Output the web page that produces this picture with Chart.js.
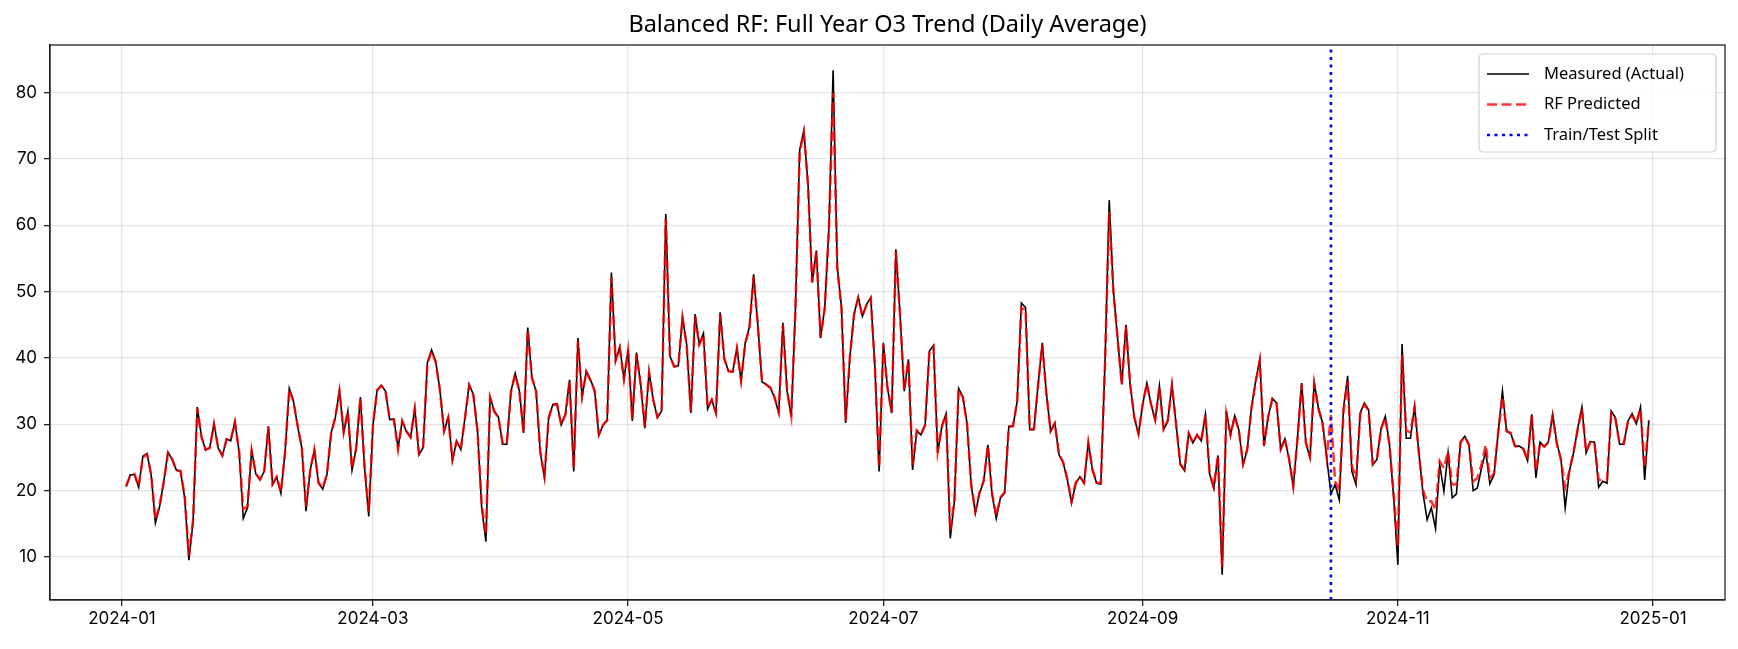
<!DOCTYPE html>
<html>
<head>
<meta charset="utf-8">
<script src="https://cdn.jsdelivr.net/npm/chart.js@4.4.1/dist/chart.umd.min.js"></script>
<style>
    html, body { margin: 0; padding: 0; background: #fff; }
</style>
</head>
<body>
<canvas id="chart" width="1738" height="649"></canvas>
<script>
// daily O3 average, one value per day from 2024-01-02 to 2024-12-31
const firstDate = '2024-01-02';

const measured = [
    20.6, 22.4, 22.4, 20.5, 25.2, 25.6, 22.3, 15.1, 17.6, 21.4,
    25.8, 24.7, 23.1, 22.9, 18.9, 9.5, 15.3, 32.6, 28.2, 26.1,
    26.5, 30.1, 26.4, 25.2, 27.8, 27.5, 30.4, 25.9, 15.8, 17.4,
    26.1, 22.5, 21.6, 22.9, 29.7, 20.9, 22.0, 19.6, 25.9, 35.4,
    33.5, 29.7, 26.4, 16.9, 23.1, 26.1, 21.1, 20.2, 22.4, 28.7,
    31.0, 35.1, 28.7, 32.0, 23.1, 26.4, 34.1, 23.4, 16.1, 29.9,
    35.2, 35.9, 35.0, 30.7, 30.8, 26.4, 30.5, 28.9, 28.0, 32.4,
    25.4, 26.5, 39.3, 41.2, 39.5, 35.2, 28.9, 31.1, 24.5, 27.5,
    26.2, 31.0, 36.0, 34.5, 28.9, 17.4, 12.3, 34.1, 32.0, 31.1,
    27.0, 27.0, 35.0, 37.7, 35.0, 28.7, 44.6, 37.0, 35.0, 25.7,
    21.9, 31.0, 33.0, 33.1, 29.9, 31.5, 36.7, 22.9, 43.0, 34.1,
    38.0, 36.7, 35.1, 28.3, 29.9, 30.6, 52.9, 39.6, 41.7, 36.8,
    41.3, 30.5, 40.8, 36.0, 29.4, 37.9, 33.7, 31.0, 32.0, 61.7,
    40.3, 38.7, 38.8, 46.2, 42.0, 31.7, 46.6, 42.1, 43.7, 32.3,
    33.7, 31.6, 46.9, 39.9, 38.0, 37.9, 41.5, 36.5, 42.3, 44.7,
    52.6, 45.0, 36.4, 36.0, 35.5, 34.0, 31.7, 45.3, 35.0, 31.1,
    47.6, 71.3, 74.3, 66.2, 51.4, 56.2, 43.0, 47.6, 59.7, 83.4,
    53.7, 47.6, 30.2, 40.1, 46.6, 49.2, 46.3, 48.1, 49.1, 38.5,
    22.9, 42.3, 35.5, 31.7, 56.4, 46.6, 35.0, 39.8, 23.1, 29.0,
    28.4, 29.9, 41.0, 41.9, 25.7, 29.7, 31.6, 12.8, 18.4, 35.4,
    34.2, 30.2, 20.9, 16.6, 19.6, 21.4, 26.9, 19.4, 15.8, 18.9,
    19.6, 29.7, 29.7, 33.5, 48.3, 47.6, 29.2, 29.2, 36.0, 42.3,
    34.5, 28.9, 30.2, 25.4, 24.2, 21.6, 18.1, 21.1, 22.1, 21.1,
    27.3, 23.1, 21.1, 21.0, 39.5, 63.8, 50.1, 43.0, 36.0, 45.0,
    36.0, 31.0, 28.5, 33.0, 36.2, 33.0, 30.6, 35.8, 29.2, 30.5,
    36.0, 29.9, 23.9, 23.0, 28.7, 27.2, 28.4, 27.5, 31.5, 22.5,
    20.3, 25.3, 7.3, 32.0, 28.4, 31.3, 29.1, 23.9, 26.2, 32.5,
    36.5, 39.8, 26.7, 31.2, 33.9, 33.2, 26.2, 27.8, 24.7, 20.5,
    27.9, 36.2, 27.2, 25.0, 36.3, 32.5, 30.2, 24.9, 19.5, 20.9,
    18.6, 32.5, 37.3, 22.9, 20.9, 31.7, 33.2, 32.2, 23.9, 24.7,
    29.4, 31.2, 26.9, 18.9, 8.8, 42.1, 27.9, 27.9, 32.7, 25.9,
    19.6, 15.6, 17.4, 14.3, 23.9, 19.9, 25.7, 18.9, 19.5, 27.4,
    28.2, 26.9, 20.0, 20.4, 23.4, 25.9, 21.0, 22.4, 28.9, 35.0,
    28.9, 28.6, 26.7, 26.7, 26.3, 24.5, 31.5, 21.9, 27.3, 26.6,
    27.4, 31.5, 27.2, 24.7, 17.4, 22.9, 25.7, 29.4, 32.6, 25.7,
    27.4, 27.3, 20.5, 21.4, 21.1, 32.0, 31.0, 27.0, 27.0, 30.5,
    31.6, 30.1, 32.6, 21.6, 30.6
];

const predicted = [
    20.7, 22.3, 22.5, 20.7, 25.0, 25.5, 22.4, 15.6, 17.7, 21.3,
    25.7, 24.8, 23.0, 23.0, 19.1, 10.2, 15.6, 32.4, 28.1, 26.2,
    26.4, 30.0, 26.5, 25.3, 27.7, 27.6, 30.3, 26.0, 17.2, 17.6,
    26.0, 22.6, 21.7, 22.8, 29.6, 21.0, 22.1, 19.8, 25.8, 35.3,
    33.4, 29.8, 26.5, 17.6, 23.0, 26.2, 21.2, 20.4, 22.5, 28.6,
    31.0, 35.0, 28.8, 31.9, 23.3, 26.4, 34.0, 23.6, 16.8, 29.8,
    35.1, 35.8, 35.0, 30.8, 30.7, 26.2, 30.5, 29.0, 28.1, 32.3,
    25.6, 26.6, 39.1, 41.0, 39.4, 35.2, 29.0, 31.0, 24.7, 27.4,
    26.3, 30.9, 35.9, 34.4, 29.0, 17.9, 13.3, 34.0, 31.9, 31.0,
    27.1, 27.1, 34.9, 37.5, 35.0, 28.8, 44.3, 37.0, 35.0, 25.9,
    22.2, 30.9, 32.9, 33.0, 30.0, 31.4, 36.5, 23.4, 42.5, 34.2,
    37.9, 36.6, 35.0, 28.5, 29.9, 30.6, 52.1, 39.6, 41.5, 36.8,
    41.1, 30.7, 40.6, 36.0, 29.6, 37.8, 33.7, 31.1, 32.1, 61.0,
    40.2, 38.7, 38.8, 46.0, 41.9, 31.9, 46.3, 42.0, 43.5, 32.5,
    33.7, 31.8, 46.6, 39.8, 38.0, 37.9, 41.4, 36.6, 42.2, 44.5,
    52.2, 45.0, 36.5, 36.0, 35.5, 34.1, 31.9, 45.0, 35.1, 31.3,
    47.3, 71.0, 74.0, 66.0, 51.4, 56.0, 43.1, 47.5, 59.4, 80.0,
    53.5, 47.5, 30.5, 40.0, 46.5, 49.0, 46.3, 48.0, 49.0, 38.6,
    23.5, 42.1, 35.5, 31.8, 56.0, 46.5, 35.1, 39.6, 23.8, 29.1,
    28.5, 29.9, 40.8, 41.7, 25.9, 29.7, 31.5, 14.0, 18.7, 35.2,
    34.1, 30.2, 21.0, 16.9, 19.7, 21.5, 26.8, 19.6, 16.2, 19.0,
    19.8, 29.6, 29.7, 33.4, 47.5, 47.3, 29.3, 29.3, 35.9, 42.0,
    34.5, 29.0, 30.1, 25.5, 24.3, 21.7, 18.4, 21.2, 22.1, 21.2,
    27.2, 23.2, 21.2, 21.2, 39.2, 62.0, 50.0, 43.0, 36.0, 44.8,
    36.0, 31.1, 28.6, 33.0, 36.1, 33.0, 30.7, 35.6, 29.3, 30.5,
    35.8, 29.9, 24.0, 23.2, 28.6, 27.2, 28.4, 27.5, 31.4, 22.7,
    20.6, 25.3, 8.5, 31.6, 28.4, 31.2, 29.0, 24.0, 26.2, 32.4,
    36.3, 39.6, 26.8, 31.1, 33.8, 33.2, 26.3, 27.8, 24.8, 20.7,
    27.8, 36.0, 27.3, 25.1, 36.1, 32.4, 30.1, 25.0, 31.4, 21.4,
    20.0, 31.8, 36.5, 23.8, 21.8, 31.5, 33.0, 32.0, 24.0, 24.9,
    29.3, 31.0, 26.9, 19.4, 11.5, 40.5, 29.0, 28.8, 32.5, 25.7,
    20.1, 18.4, 18.4, 17.1, 24.4, 23.4, 25.9, 20.9, 20.9, 27.3,
    28.1, 26.9, 21.4, 21.9, 23.9, 26.9, 21.9, 22.6, 28.8, 34.2,
    29.0, 28.7, 26.7, 26.6, 26.3, 24.6, 31.3, 22.9, 27.2, 26.6,
    27.3, 31.2, 27.1, 24.6, 20.5, 23.0, 25.8, 29.3, 32.3, 25.9,
    27.3, 27.2, 21.6, 21.6, 21.6, 31.6, 30.8, 27.1, 27.1, 30.4,
    31.3, 30.2, 32.3, 23.4, 30.5
];

// x axis tick labels (first day of every other month) and y axis ticks
const xTickLabels = ['2024-01', '2024-03', '2024-05', '2024-07', '2024-09', '2024-11', '2025-01'];
const yTickValues = [10, 20, 30, 40, 50, 60, 70, 80];
const splitDate = '2024-10-16';

const seriesLabels = ['Measured (Actual)', 'RF Predicted', 'Train/Test Split'];

// days since 2024-01-01, used as the x value
const dayNumber = (text) => {
    const [y, m, d] = text.split('-').map(Number);
    return (Date.UTC(y, m - 1, d || 1) - Date.UTC(2024, 0, 1)) / 86400000;
};

const startDay = dayNumber(firstDate);
const toPoints = (values) => values.map((v, i) => ({ x: startDay + i, y: v }));
const xTickDays = xTickLabels.map(dayNumber);
const splitDay = dayNumber(splitDate);

const fontFamily = '"Noto Sans", "DejaVu Sans", sans-serif';
const tickFamily = 'Inter, "Noto Sans", sans-serif';

/* draws the axes frame, the title and a matplotlib-style legend box */
const framePlugin = {
    id: 'frame',
    afterDraw(chart) {
        const ctx = chart.ctx;
        const a = chart.chartArea;

        ctx.save();
        ctx.strokeStyle = '#222';
        ctx.lineWidth = 1.3;
        ctx.strokeRect(a.left, a.top, a.right - a.left, a.bottom - a.top);

        ctx.fillStyle = '#000';
        ctx.font = `23.5px ${fontFamily}`;
        ctx.textAlign = 'center';
        ctx.textBaseline = 'middle';
        ctx.fillText('Balanced RF: Full Year O3 Trend (Daily Average)', (a.left + a.right) / 2, 25);

        // legend
        const boxW = 237;
        const boxH = 98;
        const boxX = a.right - 9 - boxW;
        const boxY = a.top + 9;
        ctx.fillStyle = 'rgba(255,255,255,0.8)';
        ctx.strokeStyle = '#d0d0d0';
        ctx.lineWidth = 1.2;
        ctx.beginPath();
        ctx.roundRect(boxX, boxY, boxW, boxH, 4);
        ctx.fill();
        ctx.stroke();

        ctx.font = `16.5px ${fontFamily}`;
        ctx.textAlign = 'left';
        chart.data.datasets.forEach((ds, i) => {
            const y = boxY + 20 + i * 30.5;
            ctx.strokeStyle = ds.borderColor;
            ctx.lineWidth = ds.borderWidth;
            ctx.setLineDash(ds.borderDash || []);
            ctx.beginPath();
            ctx.moveTo(boxX + 8, y);
            ctx.lineTo(boxX + 50, y);
            ctx.stroke();
            ctx.setLineDash([]);
            ctx.fillStyle = '#000';
            ctx.fillText(ds.label, boxX + 65, y);
        });
        ctx.restore();
    }
};

new Chart(document.getElementById('chart'), {
    type: 'line',
    data: {
        datasets: [
            {
                label: seriesLabels[0],
                data: toPoints(measured),
                borderColor: '#000000',
                borderWidth: 1.6,
                pointRadius: 0,
                order: 2
            },
            {
                label: seriesLabels[1],
                data: toPoints(predicted),
                borderColor: 'rgba(255,0,0,0.8)',
                borderWidth: 2.5,
                borderDash: [10, 4.5],
                pointRadius: 0,
                order: 1
            },
            {
                label: seriesLabels[2],
                data: [{ x: splitDay, y: 3.5 }, { x: splitDay, y: 87.2 }],
                borderColor: '#0000ff',
                borderWidth: 2.6,
                borderDash: [3, 4.5],
                pointRadius: 0,
                order: 0
            }
        ]
    },
    options: {
        responsive: false,
        animation: false,
        devicePixelRatio: 1,
        layout: { padding: { top: 45, right: 13, left: 0, bottom: 0 } },
        plugins: {
            legend: { display: false },
            title: { display: false },
            tooltip: { enabled: false }
        },
        scales: {
            x: {
                type: 'linear',
                min: -17.2,
                max: 383.2,
                afterBuildTicks: (scale) => {
                    scale.ticks = xTickDays.map((v) => ({ value: v }));
                },
                afterFit: (scale) => { scale.height = 49; },
                ticks: {
                    callback: (value, index) => xTickLabels[index],
                    autoSkip: false,
                    maxRotation: 0,
                    color: '#000',
                    padding: 3,
                    font: { family: tickFamily, size: 17 }
                },
                grid: {
                    color: 'rgba(0,0,0,0.1)',
                    lineWidth: 1.3,
                    tickLength: 6,
                    tickColor: '#222',
                    tickWidth: 1.3
                },
                border: { color: '#222', width: 1.3 }
            },
            y: {
                type: 'linear',
                min: 3.5,
                max: 87.2,
                afterBuildTicks: (scale) => {
                    scale.ticks = yTickValues.map((v) => ({ value: v }));
                },
                afterFit: (scale) => { scale.width = 50; },
                ticks: {
                    color: '#000',
                    padding: 7,
                    font: { family: tickFamily, size: 17 }
                },
                grid: {
                    color: 'rgba(0,0,0,0.1)',
                    lineWidth: 1.3,
                    tickLength: 6,
                    tickColor: '#222',
                    tickWidth: 1.3
                },
                border: { color: '#222', width: 1.3 }
            }
        }
    },
    plugins: [framePlugin]
});
</script>
</body>
</html>
